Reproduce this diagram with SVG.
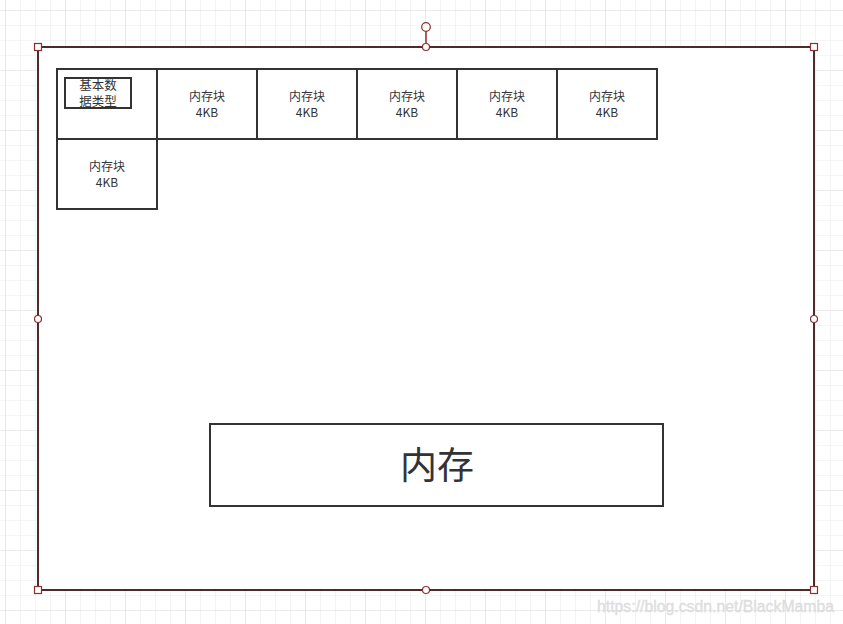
<svg xmlns="http://www.w3.org/2000/svg" width="843" height="624" viewBox="0 0 843 624">
<defs>
<pattern id="grid" x="5" y="10" width="15" height="15" patternUnits="userSpaceOnUse">
<path d="M0 0H15M0 0V15" fill="none" stroke="#ebebeb" stroke-width="1.2"/>
</pattern>
<pattern id="major" x="5" y="10" width="60" height="60" patternUnits="userSpaceOnUse">
<path d="M0 0H60M0 0V60" fill="none" stroke="#e2e2e2" stroke-width="1.2"/>
</pattern>
</defs>
<style>
.cell{fill:#fff;stroke:#333;stroke-width:2}
.t{font-family:"Noto Sans CJK SC","Microsoft YaHei",sans-serif;fill:#333;text-anchor:middle}
.s{font-size:12px}
.h{fill:#fff;stroke:#8b2f2f;stroke-width:1.2}
</style>
<rect width="843" height="624" fill="#fff"/>
<rect width="843" height="624" fill="url(#grid)"/>
<rect width="843" height="624" fill="url(#major)"/>
<g id="container">
<rect x="38" y="47" width="776" height="543" fill="#fff" stroke="#4e2a2a" stroke-width="2"/>
</g>
<g id="basic">
<rect class="cell" x="57" y="69" width="100" height="70"/>
<rect x="65" y="78" width="66" height="30" fill="none" stroke="#333" stroke-width="2"/>
<text class="t" x="98" y="90" font-size="12.5">基本数</text>
<text class="t" x="98" y="106" font-size="12.5">据类型</text>
</g>
<g id="block1"><rect class="cell" x="157" y="69" width="100" height="70"/><text class="t s" x="207" y="101">内存块</text><text class="t s" x="207" y="117">4KB</text></g>
<g id="block2"><rect class="cell" x="257" y="69" width="100" height="70"/><text class="t s" x="307" y="101">内存块</text><text class="t s" x="307" y="117">4KB</text></g>
<g id="block3"><rect class="cell" x="357" y="69" width="100" height="70"/><text class="t s" x="407" y="101">内存块</text><text class="t s" x="407" y="117">4KB</text></g>
<g id="block4"><rect class="cell" x="457" y="69" width="100" height="70"/><text class="t s" x="507" y="101">内存块</text><text class="t s" x="507" y="117">4KB</text></g>
<g id="block5"><rect class="cell" x="557" y="69" width="100" height="70"/><text class="t s" x="607" y="101">内存块</text><text class="t s" x="607" y="117">4KB</text></g>
<g id="block6"><rect class="cell" x="57" y="139" width="100" height="70"/><text class="t s" x="107" y="171">内存块</text><text class="t s" x="107" y="187">4KB</text></g>
<g id="memory">
<rect class="cell" x="210" y="424" width="453" height="82"/>
<text class="t" x="437" y="479" font-size="37">内存</text>
</g>
<g id="connectors"></g>
<g id="handles">
<line x1="426" y1="31" x2="426" y2="43" stroke="#8b2f2f" stroke-width="1.5"/>
<circle class="h" cx="426" cy="27" r="4.3"/>
<circle class="h" cx="426" cy="47" r="3.5"/>
<circle class="h" cx="426" cy="590" r="3.5"/>
<circle class="h" cx="38" cy="319" r="3.5"/>
<circle class="h" cx="814" cy="319" r="3.5"/>
<rect class="h" x="34.5" y="43.5" width="7" height="7"/>
<rect class="h" x="810.5" y="43.5" width="7" height="7"/>
<rect class="h" x="34.5" y="586.5" width="7" height="7"/>
<rect class="h" x="810.5" y="586.5" width="7" height="7"/>
</g>
<text x="597" y="612" font-family="Liberation Sans, Arial, sans-serif" font-size="15.8" fill="#e0e0e0" stroke="#d8d8d8" stroke-width="0.3">https://blog.csdn.net/BlackMamba</text>
</svg>
